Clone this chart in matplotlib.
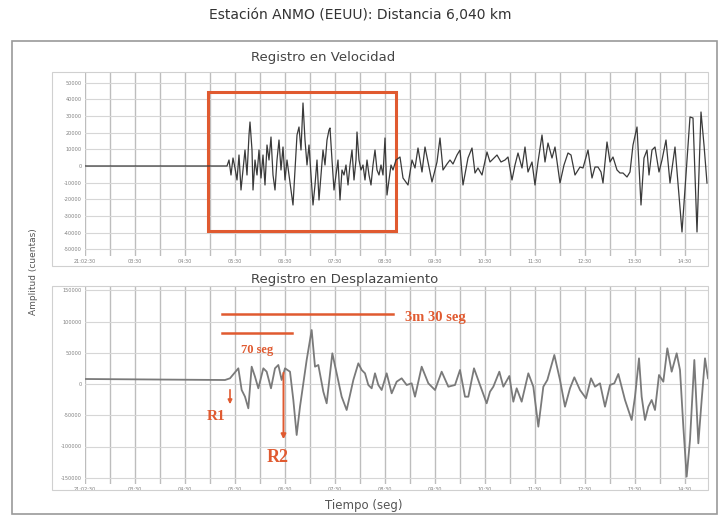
import matplotlib
matplotlib.use("Agg")
import matplotlib.pyplot as plt
from matplotlib.patches import Rectangle

# time in seconds from the first tick, amplitude in counts
vel_t = [0, 170.4, 172.8, 175.2, 177.6, 180.0, 182.4, 184.8, 187.2, 189.6, 192.0,
         194.4, 196.8, 198.0, 200.4, 201.6, 204.0, 206.4, 208.8, 211.2, 213.6,
         216.0, 218.4, 220.8, 223.2, 225.6, 228.0, 230.4, 232.8, 235.2, 237.6,
         240.0, 242.4, 244.8, 247.2, 249.6, 252.0, 254.4, 256.8, 259.2, 261.6,
         264.0, 266.4, 268.8, 271.2, 273.6, 276.0, 278.4, 280.8, 283.2, 285.6,
         288.0, 290.4, 292.8, 294.0, 296.4, 298.8, 301.2, 303.6, 306.0, 308.4,
         310.8, 313.2, 315.6, 318.0, 320.4, 322.8, 325.2, 326.4, 328.8, 331.2,
         333.6, 336.0, 338.4, 340.8, 343.2, 345.6, 348.0, 350.4, 352.8, 355.2,
         357.6, 360.0, 362.4, 364.8, 367.2, 369.6, 373.2, 378.0, 381.6, 387.6,
         392.4, 396.0, 399.6, 404.4, 408.0, 411.6, 416.4, 422.4, 426.0, 429.6,
         434.4, 438.0, 441.6, 446.4, 450.0, 453.6, 459.6, 464.4, 468.0, 471.6,
         476.4, 482.4, 486.0, 490.8, 494.4, 499.2, 504.0, 507.6, 512.4, 516.0,
         519.6, 524.4, 528.0, 531.6, 536.4, 540.0, 543.6, 548.4, 552.0, 555.6,
         560.4, 564.0, 570.0, 574.8, 579.6, 583.2, 588.0, 594.0, 597.6, 603.6,
         608.4, 612.0, 615.6, 619.2, 621.6, 626.4, 630.0, 633.6, 638.4, 642.0,
         645.6, 650.4, 654.0, 657.6, 662.4, 667.2, 670.8, 674.4, 676.8, 680.4,
         684.0, 688.8, 692.4, 697.2, 702.0, 708.0, 712.8, 716.4, 721.2, 726.0,
         729.6, 734.4, 739.2, 742.8, 746.4]
vel_a = [0, 0, 3600, -5400, 4800, -1200, -8400, 6600, -14400, -2400, 9600,
         -5400, 18600, 26400, 9600, -14400, 3600, -5400, 9600, -7200, 6600,
         -11400, 12600, 3600, 17400, -5400, -14400, 3600, 15600, -2400, 11400,
         -8400, 3600, -5400, -14400, -23400, -2400, 18600, 23400, 9600, 37800,
         15600, 600, 12600, -5400, -23400, -11400, 3600, -20400, -5400, 9600,
         600, 15600, 21600, 22800, 3600, -14400, -5400, 3600, -20400, -2400,
         -5400, 600, -11400, 600, 9600, -8400, 3600, 20400, 3600, -2400,
         600, -8400, 3600, -5400, -11400, 600, 9600, -2400, -5400, 600,
         -5400, 16800, -17400, -8400, 600, -2400, 3600, 5400, -7200, -11400,
         3600, -1200, 10800, -3600, 11400, 2400, -9600, 2400, 16800, -2400,
         1200, 3600, 1200, 6600, 9600, -11400, 4800, 10800, -4200, -1200,
         -5400, 8400, 2400, 4800, 6600, 2400, 3600, 5400, -8400, 600,
         7800, -1200, 11400, -3600, 2400, -11400, 2400, 18600, 2400, 13800,
         4800, 11400, -10200, 600, 7800, 6600, -5400, -600, -1200, 9600,
         -7200, -600, -600, -3600, -10200, 14400, 2400, 5400, -2400, -4200,
         -4200, -6600, -3600, 12600, 23400, -23400, 4800, 9600, -5400, 9600,
         11400, -3600, 3600, 15600, -10200, 11400, -17400, -39600, -5400, 29400,
         28800, -39600, 32400, 12600, -10200]

disp_t = [0, 168.0, 174.0, 184.0, 188.0, 192.0, 196.0, 200.0, 204.0, 208.0,
          214.0, 218.0, 223.2, 228.0, 232.0, 236.0, 240.0, 246.0, 250.0, 254.0,
          258.0, 262.0, 266.0, 272.0, 276.0, 280.0, 286.0, 290.0, 296.8, 302.0,
          308.0, 314.0, 322.0, 328.0, 332.0, 336.0, 340.0, 344.0, 348.0, 352.0,
          356.0, 362.0, 368.0, 374.0, 380.0, 386.0, 392.0, 396.0, 404.0, 412.0,
          420.0, 428.0, 436.0, 444.0, 450.0, 456.0, 460.0, 466.8, 474.0, 482.0,
          486.0, 490.0, 497.2, 502.0, 509.2, 514.0, 518.0, 524.0, 532.0, 538.0,
          544.0, 550.0, 554.8, 563.2, 570.0, 576.0, 582.0, 587.2, 594.0, 601.2,
          607.2, 612.0, 618.0, 624.0, 630.0, 635.2, 640.0, 648.0, 652.0, 656.0,
          660.0, 664.8, 668.0, 672.0, 676.0, 680.0, 684.0, 688.8, 694.0, 698.8,
          704.0, 710.0, 714.0, 718.0, 722.0, 726.0, 731.2, 736.0, 740.0, 744.0,
          747.6]
disp_a = [8000, 6400, 9100, 25100, -9600, -20300, -38900, 27700, 11700, -6900,
          25100, 19700, -6900, 25100, 30400, 6400, 25100, 19700, -25600, -81600,
          -36300, 1100, 38400, 86400, 27700, 30400, -12300, -30900, 49100, 17100,
          -20300, -41600, 6400, 33100, 22400, 17100, -1600, -6900, 17100, -1600,
          -9600, 17100, -14900, 3700, 9100, -1600, 1100, -20300, 27700, 1100,
          -9600, 19700, -4300, -1600, 22400, -20300, -20300, 25100, -1600, -30900,
          -12300, -4300, 19700, -4300, 12800, -28300, -6900, -28300, 17100, -4300,
          -68300, -4300, 6400, 46400, 6400, -36300, -6900, 10700, -9600, -22900,
          9100, -4300, 1100, -36300, -1600, 1100, 16000, -25600, -41600, -57600,
          -20300, 41100, -20300, -57600, -36300, -25600, -41600, 14400, 3700, 57100,
          19700, 49100, 22400, -68300, -148300, -89600, 38400, -94900, -25600, 41100,
          9100]

vel_yticks = [50000, 40000, 30000, 20000, 10000, 0, -10000, -20000, -30000, -40000, -50000]
disp_yticks = [150000, 100000, 50000, 0, -50000, -100000, -150000]
time_ticks = [0, 60, 120, 180, 240, 300, 360, 420, 480, 540, 600, 660, 720]
time_labels = ["21:02:30", "03:30", "04:30", "05:30", "06:30", "07:30", "08:30",
               "09:30", "10:30", "11:30", "12:30", "13:30", "14:30"]
grid_ticks = [0, 30, 60, 90, 120, 150, 180, 210, 240, 270, 300, 330, 360, 390, 420,
              450, 480, 510, 540, 570, 600, 630, 660, 690, 720]

# annotation values (time s, counts)
box_t = [147.6, 373.2]
box_a = [-39000, 44600]
span_long = [164.4, 369.6, 111500]
span_short = [164.4, 247.8, 81100]
r1_arrow = [174.0, -4800, -36800]
r2_arrow = [238.2, 22400, -92800]

W, H = 721, 516
RED = "#e05a30"


def box(x0, y0, x1, y1):
    return [x0 / W, 1 - y1 / H, (x1 - x0) / W, (y1 - y0) / H]


def panel(fig, x0, y0, x1, y1, color="#d0d0d0", lw=0.8):
    fig.add_artist(Rectangle((x0 / W, 1 - y1 / H), (x1 - x0) / W, (y1 - y0) / H,
                             transform=fig.transFigure, fill=False,
                             edgecolor=color, linewidth=lw))


def style(ax, yticks):
    ax.set_xlim(0, 747.6)
    ax.set_xticks(time_ticks)
    ax.set_xticklabels(time_labels)
    ax.set_xticks(grid_ticks, minor=True)
    ax.set_yticks(yticks)
    ax.set_yticklabels([str(v) for v in yticks])
    ax.grid(axis="x", which="both", color="#bdbdbd", linewidth=1.0)
    ax.grid(axis="y", which="major", color="#d6d6d6", linewidth=0.8)
    ax.tick_params(which="both", length=0, labelsize=3.6, labelcolor="#808080", pad=2.5)
    for s in ax.spines.values():
        s.set_visible(False)
    ax.set_axisbelow(True)


fig = plt.figure(figsize=(W / 100, H / 100), dpi=100)

panel(fig, 12, 41, 717, 514, color="#9a9a9a", lw=1.2)
panel(fig, 52, 72, 708, 266)
panel(fig, 52, 286, 708, 490)

fig.text(360 / W, 1 - 15 / H, "Estación ANMO (EEUU): Distancia 6,040 km",
         ha="center", va="center", fontsize=10, color="#333333")
fig.text(251 / W, 1 - 58 / H, "Registro en Velocidad", ha="left", va="center",
         fontsize=9.5, color="#444444")
fig.text(251 / W, 1 - 280 / H, "Registro en Desplazamiento", ha="left", va="center",
         fontsize=9.5, color="#444444")
fig.text(364 / W, 1 - 506 / H, "Tiempo (seg)", ha="center", va="center",
         fontsize=8.5, color="#555555")
fig.text(33 / W, 1 - 272 / H, "Amplitud (cuentas)", ha="center", va="center",
         rotation=90, fontsize=6.5, color="#555555")

# velocity
ax1 = fig.add_axes(box(85, 72, 708, 256))
style(ax1, vel_yticks)
ax1.set_ylim(-54000, 56400)
ax1.plot(vel_t, vel_a, color="#3a3a3a", linewidth=0.9)
ax1.add_patch(Rectangle((box_t[0], box_a[0]), box_t[1] - box_t[0], box_a[1] - box_a[0],
                        fill=False, edgecolor=RED, linewidth=2.2))

# displacement
ax2 = fig.add_axes(box(85, 286, 708, 484))
style(ax2, disp_yticks)
ax2.set_ylim(-160000, 156800)
ax2.plot(disp_t, disp_a, color="#7a7a7a", linewidth=1.3)

ax2.plot(span_long[:2], [span_long[2]] * 2, color=RED, linewidth=1.8)
ax2.plot(span_short[:2], [span_short[2]] * 2, color=RED, linewidth=1.8)
ax2.text(384, 105600, "3m 30 seg", color=RED, fontsize=10.5, fontweight="bold",
         family="Liberation Serif", ha="left", va="center")
ax2.text(206.4, 54400, "70 seg", color=RED, fontsize=9, fontweight="bold",
         family="Liberation Serif", ha="center", va="center")
ax2.annotate("", xy=(r1_arrow[0], r1_arrow[2]), xytext=(r1_arrow[0], r1_arrow[1]),
             arrowprops=dict(arrowstyle="-|>", color=RED, lw=1.2, mutation_scale=6))
ax2.annotate("", xy=(r2_arrow[0], r2_arrow[2]), xytext=(r2_arrow[0], r2_arrow[1]),
             arrowprops=dict(arrowstyle="-|>", color=RED, lw=1.4, mutation_scale=7))
ax2.text(157.2, -52300, "R1", color=RED, fontsize=11, fontweight="bold",
         family="Liberation Serif", ha="center", va="center")
ax2.text(231.6, -118400, "R2", color=RED, fontsize=13, fontweight="bold",
         family="Liberation Serif", ha="center", va="center")

fig.savefig("out.png", dpi=100)
